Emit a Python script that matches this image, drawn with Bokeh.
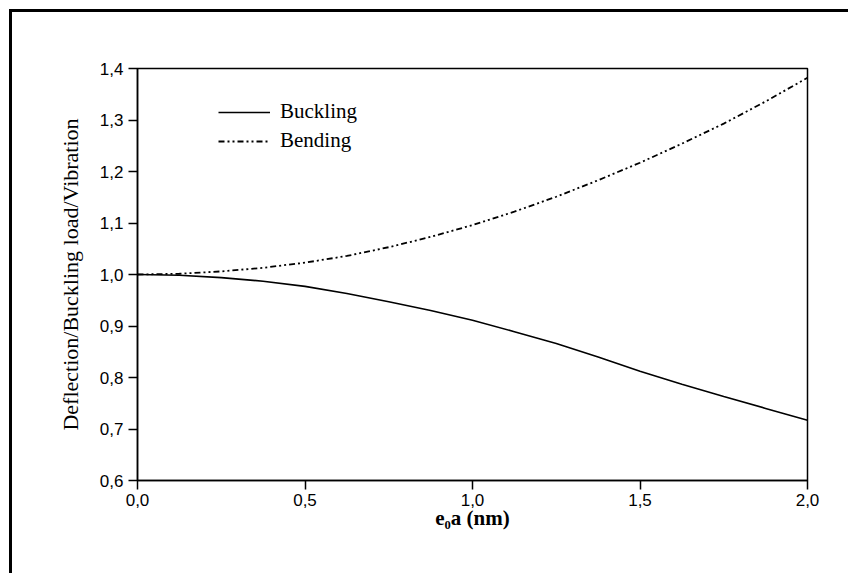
from bokeh.plotting import figure
from bokeh.models import Range1d, FixedTicker, CustomJSTickFormatter, Legend, LegendItem
from bokeh.embed import file_html
from bokeh.resources import INLINE

# data
e0a = [0.0, 0.125, 0.25, 0.375, 0.5, 0.625, 0.75, 0.875, 1.0,
       1.125, 1.25, 1.375, 1.5, 1.625, 1.75, 1.875, 2.0]
buckling = [1.000, 0.9985, 0.994, 0.987, 0.977, 0.963, 0.947, 0.930, 0.911,
            0.889, 0.866, 0.840, 0.812, 0.787, 0.763, 0.740, 0.717]
bending = [1.000, 1.0015, 1.006, 1.013, 1.023, 1.036, 1.053, 1.073, 1.096,
           1.122, 1.151, 1.183, 1.217, 1.254, 1.293, 1.336, 1.382]
x_ticks = [0.0, 0.5, 1.0, 1.5, 2.0]
y_ticks = [0.6, 0.7, 0.8, 0.9, 1.0, 1.1, 1.2, 1.3, 1.4]
x_title = "e\u2080a (nm)"
y_title = "Deflection/Buckling load/Vibration"

p = figure(width=839, height=564, output_backend="svg", toolbar_location=None,
           x_range=Range1d(0, 2), y_range=Range1d(0.6, 1.4),
           min_border_left=125, min_border_top=56, min_border_right=44, min_border_bottom=96)
p.styles = {"border-top": "3px solid black", "border-left": "3px solid black",
            "margin-top": "9px", "margin-left": "9px"}
p.background_fill_color = "white"
p.border_fill_color = "white"
p.grid.visible = False
p.outline_line_color = "black"
p.outline_line_width = 1.5
p.outline_line_alpha = 1.0

fmt = CustomJSTickFormatter(code="return tick.toFixed(1).replace('.', ',');")
for ax, ticks in ((p.xaxis[0], x_ticks), (p.yaxis[0], y_ticks)):
    ax.ticker = FixedTicker(ticks=ticks)
    ax.formatter = fmt
    ax.axis_line_color = "black"
    ax.axis_line_width = 1.5
    ax.major_tick_line_color = "black"
    ax.major_tick_line_width = 1.5
    ax.major_tick_in = 0
    ax.major_tick_out = 9
    ax.minor_tick_line_color = None
    ax.major_label_text_font = "Liberation Sans"
    ax.major_label_text_font_size = "17px"
    ax.major_label_text_color = "black"
    ax.axis_label_text_color = "black"
    ax.axis_label_text_font = "Liberation Serif"
    ax.axis_label_text_font_size = "21px"

p.xaxis.major_label_standoff = 4
p.yaxis.major_label_standoff = 5
p.xaxis.axis_label = x_title
p.xaxis.axis_label_text_font_style = "bold"
p.xaxis.axis_label_standoff = -3
p.yaxis.axis_label = y_title
p.yaxis.axis_label_text_font_style = "normal"
p.yaxis.axis_label_text_font_size = "22px"
p.yaxis.axis_label_standoff = 14

r1 = p.line(e0a, buckling, line_color="black", line_width=1.6)
r2 = p.line(e0a, bending, line_color="black", line_width=1.8, line_dash="6 3 2 3 2 3")

legend = Legend(items=[LegendItem(label="Buckling", renderers=[r1]),
                       LegendItem(label="Bending", renderers=[r2])],
                location=(81, 327), orientation="vertical")
legend.border_line_color = None
legend.background_fill_alpha = 0
legend.padding = 0
legend.margin = 0
legend.spacing = 4
legend.glyph_width = 52
legend.glyph_height = 24
legend.label_height = 24
legend.label_standoff = 10
legend.label_text_font = "Liberation Serif"
legend.label_text_font_size = "21px"
legend.label_text_color = "black"
p.add_layout(legend, "center")

open("out.html", "w").write(file_html(p, INLINE))
